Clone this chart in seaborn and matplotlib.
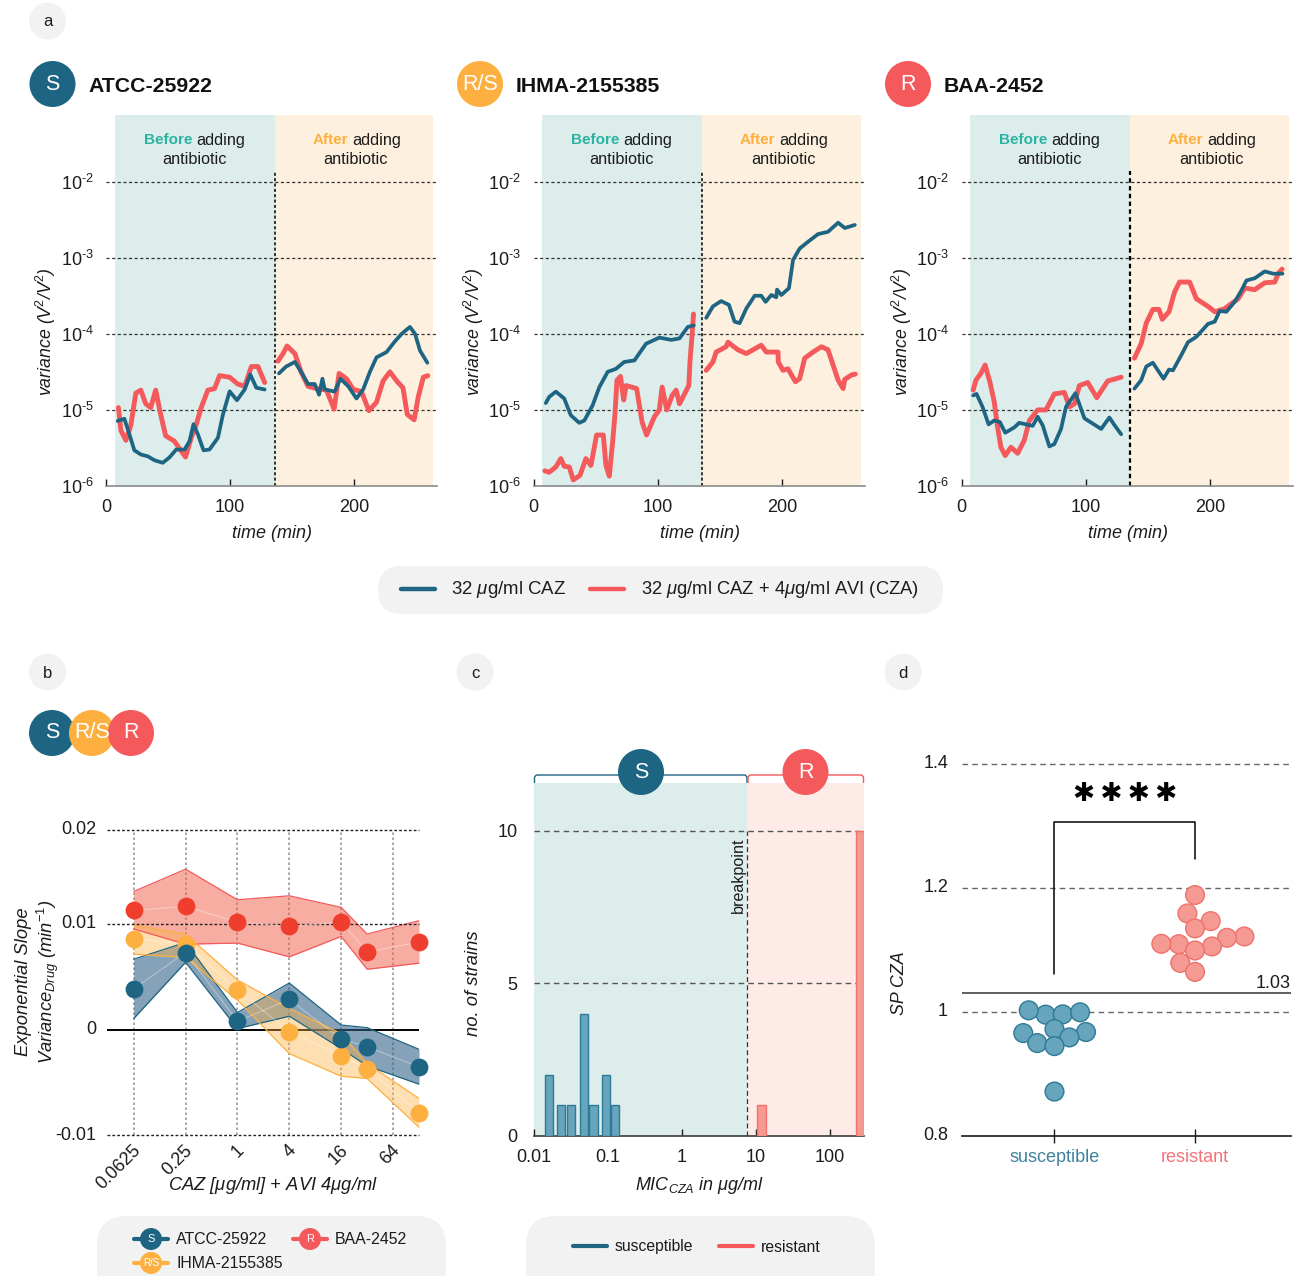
import numpy as np
import pandas as pd
import seaborn as sns
import matplotlib
matplotlib.use("Agg")
import matplotlib.pyplot as plt
from matplotlib.patches import Circle, FancyBboxPatch, PathPatch
from matplotlib.path import Path
from matplotlib.transforms import ScaledTranslation

# panel a: time in min, variance as log10 (V2/V2)
atcc_caz_t_pre = [9.4, 14.8, 18.8, 22.8, 28.2, 33.6, 39, 45.7, 51.1, 56.5, 63.2, 67.2, 70.4, 73.9, 78.5, 83.3, 90.1, 94.1, 99.5, 105.4, 111.6, 116.1, 121, 127.7]
atcc_caz_v_pre = [-5.145, -5.117, -5.319, -5.531, -5.587, -5.61, -5.662, -5.695, -5.624, -5.521, -5.521, -5.413, -5.188, -5.319, -5.531, -5.521, -5.366, -5.061, -4.756, -4.873, -4.732, -4.535, -4.709, -4.732]
atcc_cza_t_pre = [10, 12, 16, 20, 24, 28, 32, 36, 40, 44, 48, 55, 60.5, 64, 68.5, 72.5, 76.6, 82, 87.4, 91.4, 99.5, 106, 111.6, 117, 122.3, 127.7]
atcc_cza_v_pre = [-4.97, -5.27, -5.4, -5.2, -4.78, -4.74, -4.92, -4.97, -4.74, -5.06, -5.34, -5.41, -5.54, -5.62, -5.37, -5.2, -4.97, -4.74, -4.72, -4.55, -4.57, -4.66, -4.69, -4.43, -4.43, -4.64]
atcc_caz_t_post = [139.2, 145, 152, 157, 162.6, 168, 171.5, 174.2, 176, 184, 188.7, 195, 201.6, 207, 212.4, 217.7, 225.8, 232.5, 238, 244.6, 248.7, 252.7, 258.6]
atcc_caz_v_post = [-4.52, -4.43, -4.37, -4.5, -4.66, -4.66, -4.8, -4.59, -4.73, -4.76, -4.59, -4.69, -4.85, -4.73, -4.5, -4.31, -4.24, -4.1, -4.0, -3.91, -4.0, -4.22, -4.38]
atcc_cza_t_post = [138.4, 142.5, 145.7, 152, 157, 162.6, 169.4, 177.4, 183.6, 187.6, 193.5, 199, 205.6, 211.6, 217.7, 223, 228.5, 234, 239, 242.5, 248, 251.3, 255.4, 259]
atcc_cza_v_post = [-4.36, -4.26, -4.16, -4.26, -4.5, -4.69, -4.72, -4.74, -4.99, -4.52, -4.59, -4.73, -4.76, -5.01, -4.9, -4.62, -4.5, -4.62, -4.71, -5.06, -5.13, -4.83, -4.57, -4.55]

ihma_caz_t_pre = [9.9, 12.6, 18, 24.7, 30, 36.8, 40.9, 47.6, 53, 59.7, 66.4, 73, 81.2, 90.6, 101.3, 110.8, 117.5, 124.2, 129]
ihma_caz_v_pre = [-4.91, -4.83, -4.76, -4.85, -5.07, -5.17, -5.14, -4.94, -4.7, -4.5, -4.46, -4.37, -4.35, -4.13, -4.05, -4.08, -4.06, -3.91, -3.89]
ihma_cza_t_pre = [9.1, 12.6, 18, 22, 24.7, 28.8, 32, 37.4, 42.2, 46.2, 50.8, 56.2, 58.3, 61, 63.7, 65.6, 67.2, 70, 72.6, 74.5, 83, 87.4, 91, 97.3, 101.3, 103.5, 107.3, 111.6, 114.8, 117.5, 125, 126, 127.7, 128.8]
ihma_cza_v_pre = [-5.8, -5.82, -5.75, -5.64, -5.74, -5.75, -5.92, -5.86, -5.64, -5.73, -5.33, -5.33, -5.73, -5.87, -5.42, -5.05, -4.61, -4.56, -4.87, -4.68, -4.72, -5.16, -5.33, -5.09, -5.0, -4.7, -5.0, -4.81, -4.74, -4.92, -4.68, -4.35, -4.0, -3.74]
ihma_caz_t_post = [139, 144.4, 151, 157.3, 161.8, 165.9, 171.2, 178, 183.3, 186.8, 191.4, 195.4, 196, 199.5, 205.6, 208.9, 214.2, 221, 229, 237, 245.2, 250.5, 258.6]
ihma_caz_v_post = [-3.79, -3.64, -3.57, -3.62, -3.84, -3.86, -3.67, -3.5, -3.5, -3.58, -3.49, -3.52, -3.42, -3.49, -3.4, -3.03, -2.88, -2.79, -2.69, -2.66, -2.54, -2.61, -2.57]
ihma_cza_t_post = [139, 144.4, 147, 155, 156.5, 164.5, 171.2, 183.3, 187.4, 196.8, 197, 200.8, 204.8, 210.8, 214.2, 218.3, 225, 231.7, 237, 241.1, 245.2, 249.2, 250.5, 256, 259]
ihma_cza_v_post = [-4.48, -4.37, -4.24, -4.17, -4.11, -4.21, -4.26, -4.15, -4.24, -4.24, -4.37, -4.48, -4.46, -4.63, -4.59, -4.32, -4.24, -4.17, -4.21, -4.41, -4.61, -4.72, -4.6, -4.54, -4.53]

baa_caz_t_pre = [9.4, 12.1, 16.9, 21.8, 26.3, 30.9, 35.2, 42.5, 46.5, 57.3, 61.3, 65.3, 70.7, 74.7, 80.1, 84.1, 91.7, 98.9, 105.6, 112.4, 119, 123.1, 128.5]
baa_caz_v_pre = [-4.81, -4.79, -4.96, -5.19, -5.14, -5.16, -5.3, -5.23, -5.17, -5.21, -5.09, -5.2, -5.48, -5.45, -5.25, -4.96, -4.78, -5.11, -5.18, -5.25, -5.1, -5.2, -5.32]
baa_cza_t_pre = [9.4, 11.6, 15.6, 19, 22.8, 26.3, 29, 31.7, 35.2, 39.8, 45.2, 50.5, 54.6, 61.3, 68, 74.7, 82.8, 86.8, 90.9, 94.9, 101.6, 108.9, 117.7, 128.5]
baa_cza_v_pre = [-4.74, -4.61, -4.52, -4.41, -4.63, -4.89, -5.22, -5.49, -5.6, -5.49, -5.57, -5.4, -5.14, -5.0, -5.0, -4.79, -4.77, -4.96, -4.92, -4.68, -4.64, -4.84, -4.62, -4.57]
baa_caz_t_post = [139.2, 144.6, 148.7, 154, 158.9, 162.6, 167, 170.2, 176.9, 182.3, 189, 198.4, 203.8, 207.8, 213.2, 219.9, 225.3, 229.3, 236, 244.1, 250.8, 258.3]
baa_caz_v_post = [-4.72, -4.61, -4.43, -4.38, -4.5, -4.59, -4.47, -4.48, -4.28, -4.11, -4.04, -3.87, -3.84, -3.7, -3.71, -3.58, -3.43, -3.3, -3.27, -3.18, -3.21, -3.21]
baa_cza_t_post = [139.2, 144.6, 148.7, 154, 158.9, 161.6, 167, 171.5, 175.5, 183.6, 189, 198.4, 203.8, 211.8, 222.6, 228, 236, 244.1, 252.2, 254.8, 258]
baa_cza_v_post = [-4.32, -4.13, -3.86, -3.68, -3.68, -3.81, -3.71, -3.45, -3.32, -3.32, -3.54, -3.64, -3.71, -3.67, -3.54, -3.4, -3.42, -3.33, -3.32, -3.21, -3.15]

# panel b
conc = [0.0625, 0.25, 1, 4, 16, 32, 128]
conc_ticks = [0.0625, 0.25, 1, 4, 16, 64]
conc_labels = ["0.0625", "0.25", "1", "4", "16", "64"]
baa_mean = [0.01145, 0.01187, 0.0102, 0.00978, 0.0102, 0.00737, 0.00829]
baa_hi = [0.01346, 0.01583, 0.01258, 0.013, 0.01177, 0.00905, 0.01035]
baa_lo = [0.00953, 0.0081, 0.0082, 0.0069, 0.00883, 0.00573, 0.0063]
atcc_mean = [0.00389, 0.00731, 0.00082, 0.00288, -0.00085, -0.00161, -0.00351]
atcc_hi = [0.00668, 0.00826, 0.00165, 0.00443, 0.00047, 0.00022, -0.00184]
atcc_lo = [0.00108, 0.00639, 0.00013, 0.0013, -0.00177, -0.00342, -0.00516]
ihma_mean = [0.00858, 0.00813, 0.00377, -0.00016, -0.00247, -0.00367, -0.00788]
ihma_hi = [0.0099, 0.00905, 0.00472, 0.00203, -0.00035, -0.0032, -0.00652]
ihma_lo = [0.00715, 0.00684, 0.00282, -0.00225, -0.0044, -0.00462, -0.00927]

# panel c
mic_s = [0.016, 0.023, 0.032, 0.047, 0.064, 0.094, 0.125]
count_s = [2, 1, 1, 4, 1, 2, 1]
mic_r = [12, 256]
count_r = [1, 10]
breakpoint_mic = 7.7

# panel d
sp_s = [0.9957, 0.9962, 0.9995, 1.0027, 0.9677, 0.9725, 0.966, 0.959, 0.9499, 0.945, 0.8717]
sp_r = [1.1887, 1.159, 1.1466, 1.1348, 1.1218, 1.1197, 1.1057, 1.1094, 1.11, 1.0992, 1.0792, 1.0647]

BLUE = "#1e6583"
RED = "#f4595b"
ORANGE = "#fdb03f"
TEAL_BG = "#ddedeb"
ORANGE_BG = "#fdf0de"
PINK_BG = "#feeae7"
PILL = "#f2f2f2"
INK = "#1c1c1c"
W, H = 1296, 1276

sns.set_theme(style="white")
plt.rcParams["font.family"] = ["Liberation Sans", "DejaVu Sans"]
plt.rcParams["mathtext.fontset"] = "custom"
plt.rcParams["mathtext.rm"] = "Liberation Sans"
plt.rcParams["mathtext.it"] = "Liberation Sans:italic"
plt.rcParams["mathtext.bf"] = "Liberation Sans:bold"
plt.rcParams["text.color"] = INK
plt.rcParams["axes.labelcolor"] = INK
plt.rcParams["xtick.color"] = INK
plt.rcParams["ytick.color"] = INK

fig = plt.figure(figsize=(W / 100, H / 100), dpi=100)


def px_axes(left, top, right, bottom):
	ax = fig.add_axes([left / W, 1 - bottom / H, (right - left) / W, (bottom - top) / H])
	ax.patch.set_alpha(0)
	return ax


def label_at(ax, axis, text, x_px, y_px, box, **kw):
	# box is left, top, right, bottom of the axes in pixels
	fx = (x_px - box[0]) / (box[2] - box[0])
	fy = (box[3] - y_px) / (box[3] - box[1])
	lab = ax.set_xlabel(text, **kw) if axis == "x" else ax.set_ylabel(text, **kw)
	getattr(ax, axis + "axis").set_label_coords(fx, fy)
	lab.set_verticalalignment("center")
	return lab


def nudge(labels, dx, dy):
	# move tick labels by some pixels, y going up
	for lab in labels:
		lab.set_transform(lab.get_transform() + ScaledTranslation(dx / 100, dy / 100, fig.dpi_scale_trans))


panels_a = [
	(106, "ATCC-25922", "S", (atcc_caz_t_pre, atcc_caz_v_pre), (atcc_cza_t_pre, atcc_cza_v_pre), (atcc_caz_t_post, atcc_caz_v_post), (atcc_cza_t_post, atcc_cza_v_post)),
	(533.5, "IHMA-2155385", "R/S", (ihma_caz_t_pre, ihma_caz_v_pre), (ihma_cza_t_pre, ihma_cza_v_pre), (ihma_caz_t_post, ihma_caz_v_post), (ihma_cza_t_post, ihma_cza_v_post)),
	(961.5, "BAA-2452", "R", (baa_caz_t_pre, baa_caz_v_pre), (baa_cza_t_pre, baa_cza_v_pre), (baa_caz_t_post, baa_caz_v_post), (baa_cza_t_post, baa_cza_v_post)),
]

for x0, name, tag, caz_pre, cza_pre, caz_post, cza_post in panels_a:
	box = (x0, 115, x0 + 331, 486)
	ax = px_axes(*box)
	ax.set_yscale("log")
	ax.axvspan(7.2, 136, color=TEAL_BG, lw=0, zorder=0)
	ax.axvspan(136, 263.2, color=ORANGE_BG, lw=0, zorder=0)
	ax.hlines([1e-5, 1e-4, 1e-3, 1e-2], 0, 266.4, color="#333333", lw=0.9, ls=(0, (2.5, 2)), zorder=1)
	ax.vlines(136, 1e-6, 10 ** -1.862, color="black", lw=1.6 if tag == "R" else 1.1, ls=(0, (2, 1.5)), zorder=2)
	for t, v in (cza_pre, cza_post):
		sns.lineplot(x=t, y=10.0 ** np.array(v), color=RED, lw=3.5, estimator=None, sort=False, ax=ax, zorder=3)
	for t, v in (caz_pre, caz_post):
		sns.lineplot(x=t, y=10.0 ** np.array(v), color=BLUE, lw=2.7, estimator=None, sort=False, ax=ax, zorder=4)
	ax.set_xlim(0, 266.4)
	ax.set_ylim(1e-6, 10 ** -1.125)
	ax.set_xticks([0, 100, 200], ["0", "100", "200"], fontsize=13)
	ax.set_yticks([1e-6, 1e-5, 1e-4, 1e-3, 1e-2], ["$\\mathregular{10^{\u2010%d}}$" % k for k in (6, 5, 4, 3, 2)], fontsize=13)
	ax.minorticks_off()
	ax.tick_params(axis="x", bottom=True, direction="in", length=5, width=1, pad=9)
	ax.tick_params(axis="y", length=0, pad=9)
	sns.despine(ax=ax, left=True)
	ax.spines["bottom"].set_color("#8a8a8a")
	ax.spines["bottom"].set_linewidth(1.2)
	label_at(ax, "x", "time (min)", x0 + 166, 534, box, style="italic", fontsize=13)
	label_at(ax, "y", r"variance (V$^{2}$/V$^{2}$)", x0 - 60, 332, box, style="italic", fontsize=12.8)

# panel b
box = (107, 830, 419, 1135)
ax = px_axes(*box)
ax.set_xscale("log", base=2)
y_in = [-0.01, 0, 0.01, 0.02]
y_out = [-105, 0, 106, 200]
ax.set_yscale("function", functions=(lambda v: np.interp(v, y_in, y_out), lambda v: np.interp(v, y_out, y_in)))
xmin = 2 ** -5.03
ax.vlines(conc_ticks, -0.01, 0.02, color="#9a9a9a", lw=1.2, ls=(0, (1.5, 1.5)), zorder=1)
ax.hlines([0.01, 0.02, -0.01], xmin, 128, color="#222222", lw=1, ls=(0, (2, 1.5)), clip_on=False, zorder=5)
ax.hlines(0, xmin, 128, color="black", lw=1.4, zorder=2)
for lo, hi, col, fill, al in [(baa_lo, baa_hi, RED, "#f25c48", 0.5), (atcc_lo, atcc_hi, BLUE, "#2f5f85", 0.58), (ihma_lo, ihma_hi, ORANGE, ORANGE, 0.4)]:
	ax.fill_between(conc, lo, hi, color=fill, alpha=al, lw=0, zorder=3)
	sns.lineplot(x=conc, y=lo, color=col, lw=0.9, estimator=None, ax=ax, zorder=4)
	sns.lineplot(x=conc, y=hi, color=col, lw=0.9, estimator=None, ax=ax, zorder=4)
for vals, col, z in [(baa_mean, "#ef3e2e", 6), (ihma_mean, ORANGE, 7), (atcc_mean, BLUE, 8)]:
	sns.lineplot(x=conc, y=vals, color="white", alpha=0.35, lw=0.8, estimator=None, ax=ax, zorder=5)
	sns.scatterplot(x=conc, y=vals, color=col, s=165, linewidth=0, clip_on=False, ax=ax, zorder=z)
ax.set_xlim(xmin, 128)
ax.set_ylim(-0.01, 0.02)
ax.set_xticks(conc_ticks, conc_labels, fontsize=13, rotation=45, ha="right", rotation_mode="anchor")
ax.set_yticks([-0.01, 0, 0.01, 0.02], ["-0.01", "0", "0.01", "0.02"], fontsize=13)
ax.minorticks_off()
ax.tick_params(axis="x", length=0, pad=7)
ax.tick_params(axis="y", length=0, pad=8)
nudge(ax.get_xticklabels(), -2, 3)
nudge(ax.get_yticklabels(), 0, 2)
sns.despine(ax=ax, left=True, bottom=True)
label_at(ax, "x", r"CAZ [$\mu$g/ml] + AVI 4$\mu$g/ml", 273, 1185, box, style="italic", fontsize=13.2)
label_at(ax, "y", "Exponential Slope\n" + r"Variance$_{Drug}$ (min$^{-1}$)", 38, 982, box, style="italic", fontsize=13.2, linespacing=1.2)

# panel c
box = (534, 783, 864, 1136)
ax = px_axes(*box)
ax.set_xscale("log")
ax.axvspan(0.01, breakpoint_mic, color=TEAL_BG, lw=0, zorder=0)
ax.axvspan(breakpoint_mic, 292, color=PINK_BG, lw=0, zorder=0)
ax.hlines([5, 10], 0.01, 292, color="#555555", lw=1, ls=(0, (4, 3)), zorder=1)
ax.vlines(breakpoint_mic, 0, 10, color="#333333", lw=0.9, ls=(0, (4, 2.5)), zorder=1)
for mics, counts, fill, edge in [(mic_s, count_s, "#66a5bb", "#2d7a98"), (mic_r, count_r, "#f59a92", "#f0716c")]:
	for m, c in zip(mics, counts):
		edges = [np.log10(m) - 0.056, np.log10(m) + 0.056]
		sns.histplot(x=[m], weights=[c], bins=edges, color=fill, edgecolor=edge, alpha=1, linewidth=1, ax=ax, zorder=3)
ax.set_xlim(0.01, 292)
ax.set_ylim(0, 11.57)
ax.set_xticks([0.01, 0.1, 1, 10, 100], ["0.01", "0.1", "1", "10", "100"], fontsize=13)
ax.set_yticks([0, 5, 10], ["0", "5", "10"], fontsize=13)
ax.minorticks_off()
ax.tick_params(axis="x", bottom=True, direction="in", length=5, width=1, pad=9)
ax.tick_params(axis="y", length=0, pad=12)
sns.despine(ax=ax, left=True)
ax.spines["bottom"].set_color("#444444")
label_at(ax, "x", r"MIC$_{CZA}$ in $\mu$g/ml", 700, 1185, box, style="italic", fontsize=13)
label_at(ax, "y", "no. of strains", 474, 983, box, style="italic", fontsize=13.2)

# panel d
box = (962, 764, 1291, 1136)
ax = px_axes(*box)
df_d = pd.DataFrame({"group": ["susceptible"] * len(sp_s) + ["resistant"] * len(sp_r), "sp": sp_s + sp_r})
ax.hlines([1.0, 1.2, 1.4], -0.658, 1.683, color="#666666", lw=1, ls=(0, (4, 3)), clip_on=False, zorder=1)
ax.hlines(1.03, -0.658, 1.683, color="#333333", lw=1.1, zorder=2)
ax.plot([0, 0, 1, 1], [1.062, 1.3067, 1.3067, 1.247], color="black", lw=1.1, zorder=2)
sns.swarmplot(data=df_d, x="group", y="sp", hue="group", palette={"susceptible": "#66a5bb", "resistant": "#f59a92"},
	order=["susceptible", "resistant"], size=12, linewidth=0, legend=False, warn_thresh=1, ax=ax, zorder=3)
ax.set_xlim(-0.658, 1.683)
ax.set_ylim(0.8, 1.4)
ax.set_xticks([0, 1], ["susceptible", "resistant"], fontsize=13)
ax.get_xticklabels()[0].set_color("#3f83a0")
ax.get_xticklabels()[1].set_color("#f4737a")
ax.set_yticks([0.8, 1, 1.2, 1.4], ["0.8", "1", "1.2", "1.4"], fontsize=13)
ax.tick_params(axis="x", bottom=True, direction="inout", length=10, width=1, pad=4)
ax.tick_params(axis="y", length=0, pad=10)
nudge(ax.get_yticklabels(), 0, 2)
sns.despine(ax=ax, left=True)
ax.spines["bottom"].set_color("#222222")
ax.text(1.683, 1.033, "1.03", ha="right", va="bottom", fontsize=13)
ax.text(0.5, 1.352, "✱\u2009✱\u2009✱\u2009✱", ha="center", va="center", fontsize=19, fontweight="bold", family=["DejaVu Sans"], color="black")
ax.set_xlabel("")
label_at(ax, "y", "SP CZA", 900, 983, box, style="italic", fontsize=12.8)

# swarm is laid out with small dots so they may overlap, then the dots get their real size
fig.canvas.draw()
for coll, edge in zip(ax.collections[-2:], ["#2d7a98", "#f0716c"]):
	del coll.draw
	coll.set_sizes([13.5 ** 2])
	coll.set_edgecolor(edge)
	coll.set_linewidth(1)

# overlay in figure pixels for badges, bracket, pills
deco = fig.add_axes([0, 0, 1, 1], zorder=20)
deco.set_xlim(0, W)
deco.set_ylim(H, 0)
deco.axis("off")


def badge(x, y, tag, col, r=23, fs=15.5):
	deco.add_patch(Circle((x, y), r, color=col, lw=0))
	deco.text(x, y, tag, color="white", ha="center", va="center", fontsize=fs)


def pill(x, y, w, h):
	deco.add_patch(FancyBboxPatch((x, y), w, h, boxstyle="round,pad=0,rounding_size=%d" % min(h / 2, 30), fc=PILL, ec="none"))


for x, y, letter in [(47.5, 21, "a"), (47.5, 672, "b"), (475, 672, "c"), (903, 672, "d")]:
	deco.add_patch(Circle((x, y), 18.5, color=PILL, lw=0))
	deco.text(x, y + 1, letter, ha="center", va="center", fontsize=12)

for (x0, name, tag, *_), cx, col, tx in zip(panels_a, [52.5, 480, 908], [BLUE, ORANGE, RED], [88, 516, 943.5]):
	badge(cx, 84, tag, col)
	deco.text(tx, 86.5, name, fontsize=15.3, fontweight="bold", va="center", color="#111111")
	split = x0 + 169
	deco.text(split - 83, 140, "Before", color="#2bb3a3", fontweight="bold", fontsize=11, ha="right", va="center")
	deco.text(split - 79, 140, "adding", fontsize=11.7, ha="left", va="center")
	deco.text(split - 80.5, 159, "antibiotic", fontsize=11.7, ha="center", va="center")
	deco.text(split + 73, 140, "After", color=ORANGE, fontweight="bold", fontsize=11, ha="right", va="center")
	deco.text(split + 77, 140, "adding", fontsize=11.7, ha="left", va="center")
	deco.text(split + 80.5, 159, "antibiotic", fontsize=11.7, ha="center", va="center")

badge(52, 733, "S", BLUE)
badge(92, 733, "R/S", ORANGE)
badge(131, 733, "R", RED)

# brackets and badges on panel c
for left, right, col in [(534.5, 747, BLUE), (748, 863.5, RED)]:
	verts = [(left, 783), (left, 778), (left, 775), (left + 3, 775), (right - 3, 775), (right, 775), (right, 778), (right, 783)]
	codes = [Path.MOVETO, Path.LINETO, Path.CURVE3, Path.CURVE3, Path.LINETO, Path.CURVE3, Path.CURVE3, Path.LINETO]
	deco.add_patch(PathPatch(Path(verts, codes), fc="none", ec=col, lw=1))
badge(641, 772, "S", BLUE)
badge(805.5, 772, "R", RED)
deco.text(738, 875, "breakpoint", rotation=90, ha="center", va="center", fontsize=11.6)

# legends
pill(378, 566, 565, 48)
deco.plot([401, 435], [589, 589], color=BLUE, lw=3.2, solid_capstyle="round")
deco.text(451, 589.5, r"32 $\mu$g/ml CAZ", fontsize=13.4, va="center")
deco.plot([590, 624], [589, 589], color=RED, lw=3.2, solid_capstyle="round")
deco.text(641, 589.5, r"32 $\mu$g/ml CAZ + 4$\mu$g/ml AVI (CZA)", fontsize=13.2, va="center")

pill(97, 1216, 349, 90)
for lx, ly, tag, col, label in [(151, 1239, "S", BLUE, "ATCC-25922"), (310, 1239, "R", RED, "BAA-2452"), (151, 1263, "R/S", ORANGE, "IHMA-2155385")]:
	deco.plot([lx - 17, lx + 17], [ly, ly], color=col, lw=3, solid_capstyle="round")
	badge(lx, ly, tag, col, r=11, fs=8 if tag != "R/S" else 7)
	deco.text(lx + 25, ly + 1, label, fontsize=11.4, va="center")

pill(526, 1216, 349, 90)
deco.plot([573, 607], [1246, 1246], color=BLUE, lw=3, solid_capstyle="round")
deco.text(615, 1247, "susceptible", fontsize=11.3, va="center")
deco.plot([719, 753], [1246, 1246], color=RED, lw=3, solid_capstyle="round")
deco.text(761, 1247, "resistant", fontsize=11.3, va="center")

fig.savefig("out.png", dpi=100)
